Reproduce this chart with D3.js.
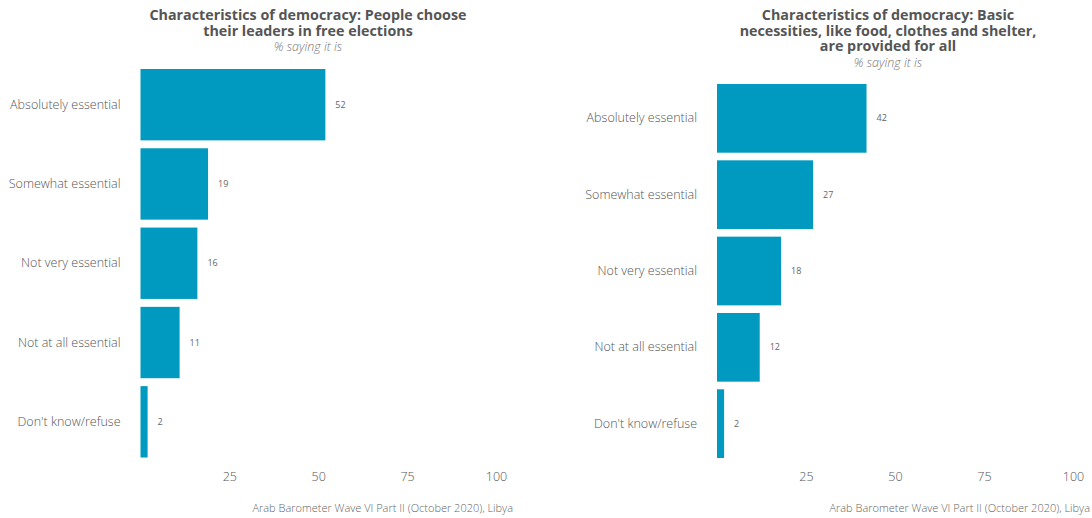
<!DOCTYPE html>
<html><head><meta charset="utf-8">
<script src="https://cdn.jsdelivr.net/npm/d3@7"></script>
<style>body{margin:0;background:#fff;} text{font-family:"Open Sans","Noto Sans",sans-serif;}</style>
</head><body><svg id="c" width="1092" height="518"></svg>
<script>
const categories = ["Absolutely essential","Somewhat essential","Not very essential","Not at all essential","Don't know/refuse"];
const leftValues = [52,19,16,11,2];
const rightValues = [42,27,18,12,2];
const tickValues = [25,50,75,100];
const leftTitle = ["Characteristics of democracy: People choose","their leaders in free elections"];
const rightTitle = ["Characteristics of democracy: Basic","necessities, like food, clothes and shelter,","are provided for all"];
const subtitle = "% saying it is";
const caption = "Arab Barometer Wave VI Part II (October 2020), Libya";

const svg = d3.select("#c");
const color = "#0099bf";

function panel(cfg){
  const g = svg.append("g");
  const x = d3.scaleLinear().domain([0,100]).range([cfg.x0, cfg.x1]);
  const y = d3.scaleBand().domain(categories).range([cfg.yTop, cfg.yBot]).paddingInner(0.1).paddingOuter(0);
  cfg.title.forEach((t,i)=>{
    g.append("text").attr("x",cfg.tx).attr("y",20+i*15.7).attr("text-anchor","middle")
      .attr("font-size",14.3).attr("font-weight",700).attr("fill","#555").text(t);
  });
  g.append("text").attr("x",cfg.tx).attr("y",20+(cfg.title.length-1)*15.7+15.5).attr("text-anchor","middle")
    .attr("font-size",12.5).attr("font-style","italic").attr("font-weight",300).attr("fill","#777").text(subtitle);
  g.selectAll("rect").data(cfg.values).join("rect")
    .attr("x",x(0)).attr("y",(d,i)=>y(categories[i])).attr("width",d=>x(d)-x(0)).attr("height",y.bandwidth())
    .attr("fill",color);
  g.selectAll(".vl").data(cfg.values).join("text").attr("class","vl")
    .attr("x",d=>x(d)+10).attr("y",(d,i)=>y(categories[i])+y.bandwidth()/2).attr("dy","0.35em")
    .attr("font-size",9).attr("fill","#666").text(d=>d);
  const ya = d3.axisLeft(y).tickSize(0).tickPadding(20);
  const yg = g.append("g").attr("transform",`translate(${x(0)},0)`).call(ya);
  yg.select(".domain").remove();
  yg.selectAll("text").attr("font-size",12.5).attr("fill","#555").attr("font-weight",300)
    .style("font-family","'Open Sans','Noto Sans',sans-serif");
  const xa = d3.axisBottom(x).tickValues(tickValues).tickSize(0).tickPadding(0);
  const xg = g.append("g").attr("transform",`translate(0,${cfg.axisY})`).call(xa);
  xg.select(".domain").remove();
  xg.selectAll("text").attr("font-size",12.5).attr("fill","#555").attr("font-weight",300)
    .style("font-family","'Open Sans','Noto Sans',sans-serif");
  g.append("text").attr("x",cfg.capX).attr("y",512).attr("text-anchor","end")
    .attr("font-size",11).attr("fill","#666").attr("font-weight",300).text(caption);
}

panel({x0:140.5,x1:496,yTop:69,yBot:457.5,title:leftTitle,values:leftValues,tx:308,axisY:472,capX:513});
panel({x0:717,x1:1073,yTop:84,yBot:458,title:rightTitle,values:rightValues,tx:888,axisY:472,capX:1090});
</script></body></html>
